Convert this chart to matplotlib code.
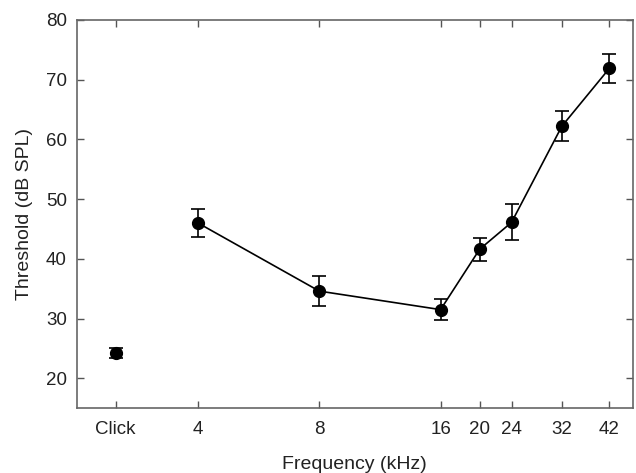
import numpy as np
import matplotlib
matplotlib.use("Agg")
import matplotlib.pyplot as plt
from matplotlib.ticker import FixedLocator, NullLocator

plt.rcParams['font.family'] = ['Liberation Sans', 'DejaVu Sans']

# click stimulus is plotted at a dummy position left of 4 kHz
click_pos = 2.5
click_thr = 24.2
click_err = 0.8

freqs = [4, 8, 16, 20, 24, 32, 42]
thresholds = [46.0, 34.6, 31.5, 41.6, 46.1, 62.2, 71.9]
errors = [2.3, 2.45, 1.8, 1.9, 3.0, 2.55, 2.4]

tick_pos = [click_pos] + freqs
tick_labels = ['Click'] + [str(f) for f in freqs]

fig = plt.figure(figsize=(6.36, 4.73), dpi=100)
ax = fig.add_axes([0.1206, 0.137, 0.8744, 0.821])

ax.errorbar(freqs, thresholds, yerr=errors, fmt='-o', color='black',
            lw=1.2, ms=8.5, capsize=5, elinewidth=1.2, capthick=1.2)
ax.errorbar([click_pos], [click_thr], yerr=[click_err], fmt='o', color='black',
            ms=8.5, capsize=5, elinewidth=1.2, capthick=1.2)

ax.set_xscale('log')
ax.set_xlim(2.0, 48)
ax.set_ylim(15, 80)
ax.xaxis.set_major_locator(FixedLocator(tick_pos))
ax.xaxis.set_minor_locator(NullLocator())
ax.set_xticklabels(tick_labels)
ax.set_yticks([20, 30, 40, 50, 60, 70, 80])

ax.tick_params(direction='in', top=True, right=True, length=5, width=1,
               color='#555555', labelsize=13.5, labelcolor='#222222')
ax.tick_params(axis='x', pad=9)
ax.tick_params(axis='y', pad=7)
for s in ax.spines.values():
    s.set_color('#666666')
    s.set_linewidth(1.2)

ax.set_xlabel('Frequency (kHz)', fontsize=14, color='#222222', labelpad=13)
ax.set_ylabel('Threshold (dB SPL)', fontsize=14, color='#222222', labelpad=9)

fig.savefig('out.png', dpi=100)
